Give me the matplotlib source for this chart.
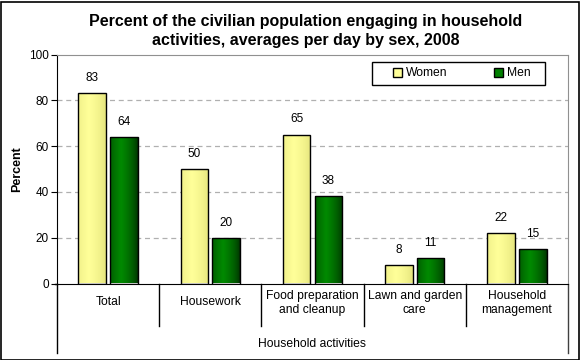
import numpy as np
import matplotlib.pyplot as plt
from matplotlib.patches import Rectangle, Patch
from matplotlib.lines import Line2D
from matplotlib.colors import LinearSegmentedColormap

plt.rcParams['font.family'] = ['Liberation Sans', 'DejaVu Sans']

# data
categories = ["Total", "Housework", "Food preparation\nand cleanup",
              "Lawn and garden\ncare", "Household\nmanagement"]
women = [83, 50, 65, 8, 22]
men = [64, 20, 38, 11, 15]
women_labels = ["83", "50", "65", "8", "22"]
men_labels = ["64", "20", "38", "11", "15"]

W, H = 580, 360
fig = plt.figure(figsize=(5.8, 3.6), dpi=100)
# plot area in pixel coordinates
x0, x1, ytop, ybot = 57, 568, 54.5, 283.5
ax = fig.add_axes([x0 / W, 1 - ybot / H, (x1 - x0) / W, (ybot - ytop) / H])

x = np.arange(len(categories))
bw = 0.27
off = 0.155


def gradient_bars(bars, light, dark):
    # horizontal shading: darker at the edges, brightest a bit left of centre
    g = np.linspace(0, 1, 64)
    shade = np.clip(1 - np.abs(g - 0.4) / 0.6, 0, 1) ** 0.6
    cmap = LinearSegmentedColormap.from_list("g", [dark, light])
    for b in bars:
        xb, yb = b.get_x(), b.get_y()
        im = ax.imshow(shade[np.newaxis, :], cmap=cmap, aspect='auto',
                       extent=[xb, xb + b.get_width(), yb, yb + b.get_height()],
                       vmin=0, vmax=1, zorder=2, interpolation='bilinear')
        im.set_clip_path(b)


bars_w = ax.bar(x - off, women, bw, facecolor='none', edgecolor='black',
                linewidth=1, zorder=3)
bars_m = ax.bar(x + off, men, bw, facecolor='none', edgecolor='black',
                linewidth=1, zorder=3)
gradient_bars(bars_w, '#FFFF99', '#E2E27A')
gradient_bars(bars_m, '#008A00', '#002E00')

for xi, v, lab in zip(x, women, women_labels):
    ax.text(xi - off, v + 4, lab, ha='center', va='bottom', fontsize=8.5)
for xi, v, lab in zip(x, men, men_labels):
    ax.text(xi + off, v + 4, lab, ha='center', va='bottom', fontsize=8.5)

ax.set_xlim(-0.5, len(categories) - 0.5)
ax.set_ylim(0, 100)
ax.set_yticks(range(0, 101, 20))
ax.tick_params(axis='y', labelsize=8.5, length=4, direction='out', pad=2)
ax.set_xticks([])
for yv in range(20, 100, 20):
    ax.axhline(yv, color='#B0B0B0', linestyle=(0, (4, 3)), linewidth=0.9, zorder=1)
ax.spines['top'].set_color('#909090')
ax.spines['right'].set_color('#909090')
ax.spines['left'].set_color('black')
ax.spines['bottom'].set_color('black')
ax.set_ylabel('Percent', fontsize=9, fontweight='bold', labelpad=4)

# category boxes below the axis
tr = ax.get_xaxis_transform()
ypx = lambda p: (ybot - p) / (ybot - ytop)  # pixel row -> axes y
for i in range(1, len(categories)):
    ax.add_line(Line2D([i - 0.5, i - 0.5], [0, ypx(326)], transform=tr,
                       color='black', linewidth=1, clip_on=False))
ax.add_line(Line2D([-0.5, -0.5], [0, ypx(353)], transform=tr,
                   color='black', linewidth=1, clip_on=False))
ax.add_line(Line2D([len(categories) - 0.5] * 2, [0, ypx(353)], transform=tr,
                   color='#404040', linewidth=1, clip_on=False))
ax.add_line(Line2D([-0.5 - 0.02, -0.5], [0, 0], transform=tr,
                   color='black', linewidth=1, clip_on=False))
for xi, c in zip(x, categories):
    ax.text(xi, ypx(303) if '\n' in c else ypx(302), c, transform=tr,
            ha='center', va='center', fontsize=8.7, linespacing=1.3)
ax.text((len(categories) - 1) / 2, ypx(344), 'Household activities', transform=tr,
        ha='center', va='center', fontsize=8.7)

# legend (frame drawn separately)
handles = [Patch(facecolor='#FFFF99', edgecolor='black', label='Women'),
           Patch(facecolor='#008000', edgecolor='black', label='Men')]
leg = fig.legend(handles=handles, loc='center left', ncol=2, fontsize=8.7,
                 bbox_to_anchor=(393 / W, 1 - 73.5 / H), frameon=False,
                 handlelength=0.75, handleheight=0.75, handletextpad=0.35,
                 columnspacing=3.8, borderpad=0, borderaxespad=0)
fig.patches.append(Rectangle((372 / W, 1 - 85 / H), 173 / W, 23 / H,
                             transform=fig.transFigure, facecolor='white',
                             edgecolor='black', linewidth=1, zorder=5))
leg.set_zorder(6)

fig.text(306 / W, 1 - 31 / H,
         'Percent of the civilian population engaging in household\n'
         'activities, averages per day by sex, 2008',
         ha='center', va='center', fontsize=11.5, fontweight='bold', linespacing=1.3)

fig.patches.append(Rectangle((0.5 / W, 0.5 / H), 1 - 2 / W, 1 - 2 / H,
                             transform=fig.transFigure, fill=False,
                             edgecolor='black', linewidth=1.2))

fig.savefig('out.png', dpi=100)
